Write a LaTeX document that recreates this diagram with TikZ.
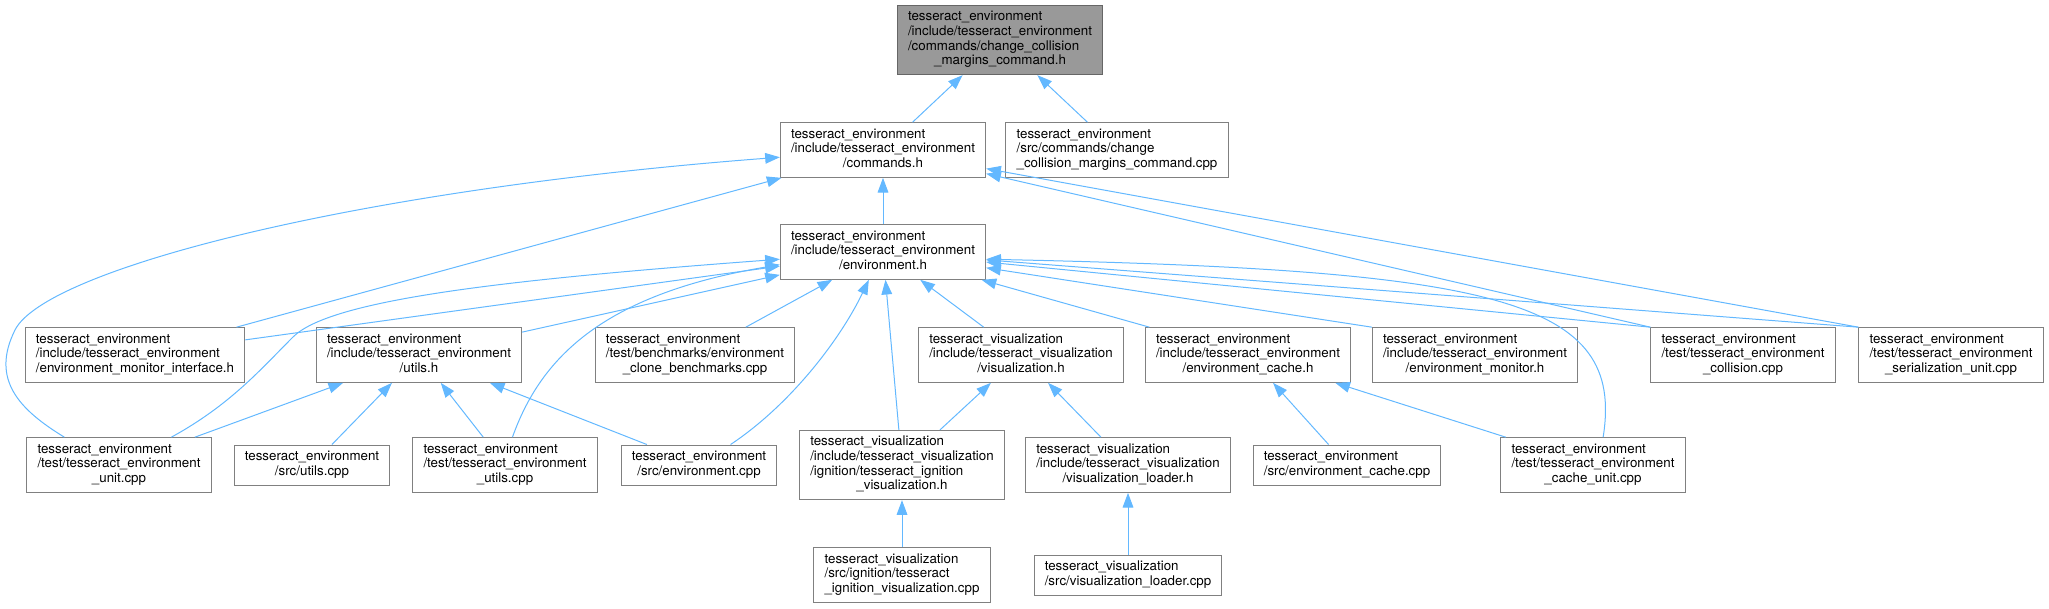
\documentclass[tikz,border=0pt]{standalone}
\usepackage{fontspec}
\setmainfont{TeX Gyre Heros}
\usepackage{xcolor}
\usepackage{tikz}
\usetikzlibrary{arrows.meta}

\definecolor{edgeblue}{HTML}{63B8FF}
\definecolor{boxgray}{HTML}{808080}
\definecolor{rootgray}{HTML}{999999}

% label: left aligned lines, last line centred
\newcommand{\flbl}[2]{\begin{tabular}{@{}l@{}}#1\\\multicolumn{1}{@{}c@{}}{#2}\end{tabular}}

\begin{document}
\begin{tikzpicture}[
    x=0.75pt, y=-0.75pt, ->, >={Triangle[length=11pt, width=8pt]}, line width=0.75pt,
    every edge/.append style={draw=edgeblue},
    file/.style={draw=boxgray, fill=white, inner xsep=8pt, inner ysep=4pt, font=\fontsize{10}{11}\selectfont},
    root/.style={file, fill=rootgray, draw=boxgray!80!black}
]
    \useasboundingbox (0,0) rectangle (2049,608);

    \node[root] (T) at (1000,40) {\flbl{tesseract\_environment\\/include/tesseract\_environment\\/commands/change\_collision}{\_margins\_command.h}};

    \node[file] (C) at (883,150) {\flbl{tesseract\_environment\\/include/tesseract\_environment}{/commands.h}};
    \node[file] (CC) at (1117,150) {\flbl{tesseract\_environment\\/src/commands/change}{\_collision\_margins\_command.cpp}};

    \node[file] (E) at (883,252) {\flbl{tesseract\_environment\\/include/tesseract\_environment}{/environment.h}};

    \node[file] (EMI) at (135,355) {\flbl{tesseract\_environment\\/include/tesseract\_environment}{/environment\_monitor\_interface.h}};
    \node[file] (UH) at (419,355) {\flbl{tesseract\_environment\\/include/tesseract\_environment}{/utils.h}};
    \node[file] (BM) at (695,355) {\flbl{tesseract\_environment\\/test/benchmarks/environment}{\_clone\_benchmarks.cpp}};
    \node[file] (VH) at (1021,355) {\flbl{tesseract\_visualization\\/include/tesseract\_visualization}{/visualization.h}};
    \node[file] (ECH) at (1248,355) {\flbl{tesseract\_environment\\/include/tesseract\_environment}{/environment\_cache.h}};
    \node[file] (EM) at (1475,355) {\flbl{tesseract\_environment\\/include/tesseract\_environment}{/environment\_monitor.h}};
    \node[file] (COL) at (1743,355) {\flbl{tesseract\_environment\\/test/tesseract\_environment}{\_collision.cpp}};
    \node[file] (SER) at (1951,355) {\flbl{tesseract\_environment\\/test/tesseract\_environment}{\_serialization\_unit.cpp}};

    \node[file] (U) at (119,465) {\flbl{tesseract\_environment\\/test/tesseract\_environment}{\_unit.cpp}};
    \node[file] (SU) at (312,465) {\flbl{tesseract\_environment}{/src/utils.cpp}};
    \node[file] (TU) at (505,465) {\flbl{tesseract\_environment\\/test/tesseract\_environment}{\_utils.cpp}};
    \node[file] (SE) at (699,465) {\flbl{tesseract\_environment}{/src/environment.cpp}};
    \node[file] (IVH) at (902,465) {\flbl{tesseract\_visualization\\/include/tesseract\_visualization\\/ignition/tesseract\_ignition}{\_visualization.h}};
    \node[file] (VLH) at (1128,465) {\flbl{tesseract\_visualization\\/include/tesseract\_visualization}{/visualization\_loader.h}};
    \node[file] (ECC) at (1347,465) {\flbl{tesseract\_environment}{/src/environment\_cache.cpp}};
    \node[file] (CU) at (1593,465) {\flbl{tesseract\_environment\\/test/tesseract\_environment}{\_cache\_unit.cpp}};

    \node[file] (IVC) at (902,575) {\flbl{tesseract\_visualization\\/src/ignition/tesseract}{\_ignition\_visualization.cpp}};
    \node[file] (VLC) at (1128,575) {\flbl{tesseract\_visualization}{/src/visualization\_loader.cpp}};

    \path
        (C) edge (T)
        (CC) edge (T)
        (E) edge (C)
        (EMI) edge (C)
        (COL.north west) edge (C)
        (SER.north west) edge (C)
        (EMI) edge (E)
        (UH) edge (E)
        (BM) edge (E)
        (IVH) edge (E)
        (VH) edge (E)
        (ECH) edge (E)
        (EM.north west) edge (E)
        (COL.north west) edge (E)
        (SER.north west) edge (E)
        (U) edge (UH)
        (SU) edge (UH)
        (TU) edge (UH)
        (SE) edge (UH)
        (IVH) edge (VH)
        (VLH) edge (VH)
        (ECC) edge (ECH)
        (CU) edge (ECH)
        (IVC) edge (IVH)
        (VLC) edge (VLH);

    % curved ones
    \draw[edgeblue] (U.153) .. controls (20,410) and (-10,380) .. (15,330) .. controls (45,270) and (350,190) .. (C.184);
    \draw[edgeblue] (U.28) .. controls (230,405) and (260,370) .. (293,337) .. controls (330,300) and (500,280) .. (E.184);
    \draw[edgeblue] (TU.75) .. controls (540,360) and (600,295) .. (E.187);
    \draw[edgeblue] (SE.33) .. controls (790,405) and (840,340) .. (E.243);
    \draw[edgeblue] (CU.70) .. controls (1625,300) and (1500,270) .. (E.-4);
\end{tikzpicture}
\end{document}
